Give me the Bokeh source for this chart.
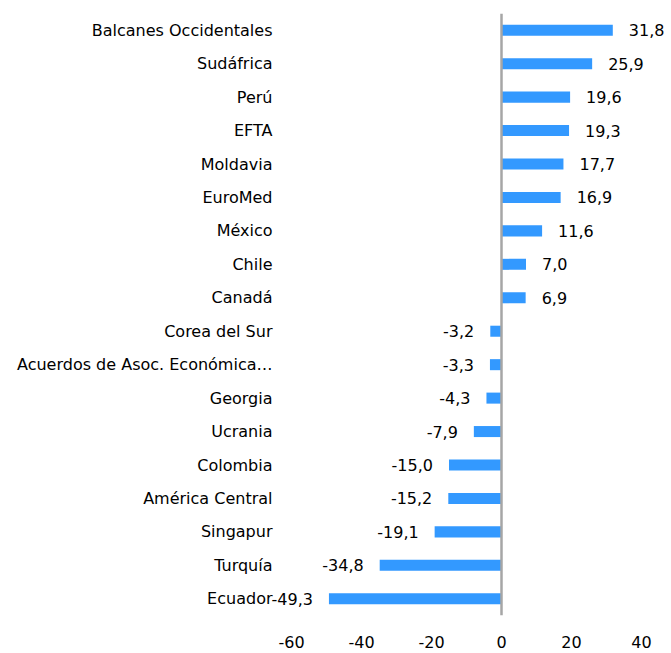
from bokeh.plotting import figure
from bokeh.models import ColumnDataSource, FactorRange, Range1d, Span, FixedTicker
from bokeh.core.properties import value
from bokeh.embed import file_html
from bokeh.resources import INLINE

categories = ["Balcanes Occidentales", "Sudáfrica", "Perú", "EFTA", "Moldavia", "EuroMed",
              "México", "Chile", "Canadá", "Corea del Sur", "Acuerdos de Asoc. Económica…",
              "Georgia", "Ucrania", "Colombia", "América Central", "Singapur", "Turquía", "Ecuador"]
values = [31.8, 25.9, 19.6, 19.3, 17.7, 16.9, 11.6, 7.0, 6.9, -3.2, -3.3, -4.3, -7.9,
          -15.0, -15.2, -19.1, -34.8, -49.3]
x_ticks = [-60, -40, -20, 0, 20, 40]
x_tick_labels = ["-60", "-40", "-20", "0", "20", "40"]

FONT = "DejaVu Sans"
FS = "16px"
BAR = "#3399FF"
TXT = "#000000"

source = ColumnDataSource(dict(
    cat=categories,
    val=values,
    label=[f"{v:.1f}".replace(".", ",") for v in values],
    align=["left" if v >= 0 else "right" for v in values],
    off=[16 if v >= 0 else -16 for v in values],
))

# the frame spans the whole width so that texts left of -60 are not clipped
p = figure(width=671, height=653, output_backend="svg", toolbar_location=None,
           y_range=FactorRange(factors=list(reversed(categories)), range_padding=0),
           x_range=Range1d(-143.14, 48),
           min_border_left=0, min_border_right=2, min_border_top=13, min_border_bottom=38)

p.hbar(y="cat", right="val", left=0, height=0.33, source=source, color=BAR, line_color=None)

p.add_layout(Span(location=0, dimension="height", line_color="#A6A6A6", line_width=2.5))

# value labels
p.text(x="val", y="cat", text="label", source=source, x_offset="off",
       text_align="align", text_baseline="middle", text_font=value(FONT),
       text_font_size=FS, text_color=TXT)

# category labels, right-aligned just left of the -60 tick
p.text(x=x_ticks[0], y="cat", text="cat", source=source, x_offset=-19,
       text_align="right", text_baseline="middle", text_font=value(FONT),
       text_font_size=FS, text_color=TXT)

p.outline_line_color = None
p.xgrid.grid_line_color = None
p.ygrid.grid_line_color = None
p.yaxis.visible = False

p.xaxis.ticker = FixedTicker(ticks=x_ticks)
p.xaxis.major_label_overrides = dict(zip(x_ticks, x_tick_labels))
p.xaxis.axis_line_color = None
p.xaxis.major_tick_line_color = None
p.xaxis.minor_tick_line_color = None
p.xaxis.major_label_standoff = 14
p.xaxis.major_label_text_font = FONT
p.xaxis.major_label_text_font_size = FS
p.xaxis.major_label_text_color = TXT

open("out.html", "w").write(file_html(p, INLINE))
